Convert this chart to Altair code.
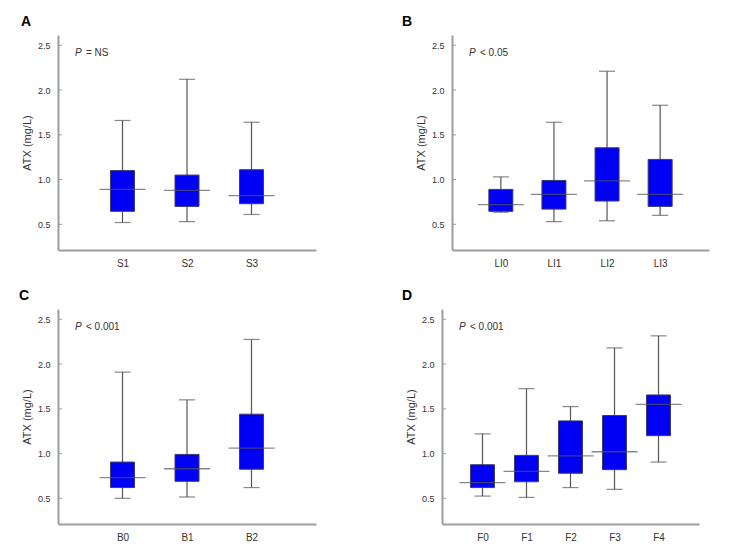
import altair as alt
import pandas as pd

# ---- data ----
a_cats = ["S1", "S2", "S3"]
a_low = [0.52, 0.53, 0.61]
a_q1 = [0.645, 0.70, 0.73]
a_med = [0.89, 0.88, 0.82]
a_q3 = [1.10, 1.05, 1.11]
a_high = [1.66, 2.12, 1.64]

b_cats = ["LI0", "LI1", "LI2", "LI3"]
b_low = [0.635, 0.53, 0.54, 0.60]
b_q1 = [0.645, 0.67, 0.76, 0.70]
b_med = [0.72, 0.835, 0.985, 0.835]
b_q3 = [0.89, 0.99, 1.355, 1.225]
b_high = [1.03, 1.64, 2.21, 1.83]

c_cats = ["B0", "B1", "B2"]
c_low = [0.50, 0.515, 0.62]
c_q1 = [0.62, 0.69, 0.825]
c_med = [0.73, 0.83, 1.06]
c_q3 = [0.905, 0.99, 1.44]
c_high = [1.91, 1.60, 2.275]

d_cats = ["F0", "F1", "F2", "F3", "F4"]
d_low = [0.525, 0.51, 0.62, 0.60, 0.905]
d_q1 = [0.62, 0.685, 0.78, 0.82, 1.20]
d_med = [0.675, 0.80, 0.975, 1.02, 1.55]
d_q3 = [0.875, 0.98, 1.365, 1.425, 1.655]
d_high = [1.22, 1.725, 1.525, 2.18, 2.315]

letters = ["A", "B", "C", "D"]
p_texts = ["= NS", "< 0.05", "< 0.001", "< 0.001"]
y_ticks = [0.5, 1.0, 1.5, 2.0, 2.5]
y_title = "ATX (mg/L)"

FONT = "Liberation Sans"
BLUE = "#0000F2"
LINE = "#555555"
AXIS = "#9d9d9d"
TXT = "#333333"
H = 215


def panel(cats, low, q1, med, q3, high, letter, ptxt, pad, width, letter_dx):
    df = pd.DataFrame({"cat": cats, "low": low, "q1": q1, "med": med,
                       "q3": q3, "high": high})
    yscale = alt.Scale(domain=[0.213, 2.615], nice=False, zero=False)
    yaxis = alt.Axis(values=y_ticks, format=".1f", ticks=False, grid=False,
                     domainColor=AXIS, domainWidth=2, labelPadding=8,
                     labelFontSize=9, labelColor=TXT, labelFont=FONT,
                     title=y_title, titleFont=FONT, titleFontSize=11,
                     titleFontWeight="normal", titleColor=TXT, titlePadding=5)
    xenc = alt.X("cat:N", sort=cats,
                 scale=alt.Scale(type="point", padding=pad),
                 axis=alt.Axis(title=None, labelAngle=0, ticks=False,
                               labelPadding=8, domainColor=AXIS, domainWidth=2,
                               labelFontSize=10, labelFont=FONT,
                               labelColor=TXT, grid=False))

    def Y(f):
        return alt.Y(f, scale=yscale, axis=yaxis)

    base = alt.Chart(df).encode(x=xenc)
    whisk = base.mark_rule(color=LINE, strokeWidth=1.2).encode(
        y=Y("low:Q"), y2="high:Q")
    box = base.mark_bar(size=24, color=BLUE, stroke="#3b3b70",
                        strokeWidth=1).encode(y=Y("q1:Q"), y2="q3:Q")
    cap_lo = base.mark_tick(size=16, thickness=1.2, color=LINE).encode(
        y=Y("low:Q"))
    cap_hi = base.mark_tick(size=16, thickness=1.2, color=LINE).encode(
        y=Y("high:Q"))
    median = base.mark_tick(size=46, thickness=1.3, color=LINE).encode(
        y=Y("med:Q"))
    ticks = alt.Chart(pd.DataFrame({"v": y_ticks})).mark_rule(
        color=AXIS, strokeWidth=1).encode(
        x=alt.value(1), x2=alt.value(4), y=Y("v:Q"))
    lab = alt.Chart(pd.DataFrame({"t": [letter]})).mark_text(
        align="left", baseline="middle", fontWeight="bold", fontSize=14,
        font=FONT, color="#000000").encode(
        x=alt.value(letter_dx), y=alt.value(-13), text="t:N")
    p1 = alt.Chart(pd.DataFrame({"t": ["P"]})).mark_text(
        align="left", baseline="middle", fontStyle="italic", fontSize=10,
        font=FONT, color=TXT).encode(
        x=alt.value(17), y=alt.value(18), text="t:N")
    p2 = alt.Chart(pd.DataFrame({"t": [ptxt]})).mark_text(
        align="left", baseline="middle", fontSize=10, font=FONT,
        color=TXT).encode(
        x=alt.value(28), y=alt.value(18), text="t:N")
    return alt.layer(whisk, box, cap_lo, cap_hi, median, ticks, lab, p1,
                     p2).properties(width=width, height=H)


pa = panel(a_cats, a_low, a_q1, a_med, a_q3, a_high, letters[0], p_texts[0],
           1.0, 258, -37)
pb = panel(b_cats, b_low, b_q1, b_med, b_q3, b_high, letters[1], p_texts[1],
           0.92, 257, -50)
pc = panel(c_cats, c_low, c_q1, c_med, c_q3, c_high, letters[2], p_texts[2],
           1.0, 258, -39)
pd_ = panel(d_cats, d_low, d_q1, d_med, d_q3, d_high, letters[3], p_texts[3],
            0.92, 257, -40)

chart = alt.vconcat(
    alt.hconcat(pa, pb, spacing=86),
    alt.hconcat(pc, pd_, spacing=86),
    spacing=21,
).properties(
    padding={"left": 11, "top": 7, "right": 5, "bottom": 5}
).configure(background="white").configure_view(strokeWidth=0, stroke="transparent")

chart.save("out.html", embed_options={"renderer": "svg", "actions": False})
